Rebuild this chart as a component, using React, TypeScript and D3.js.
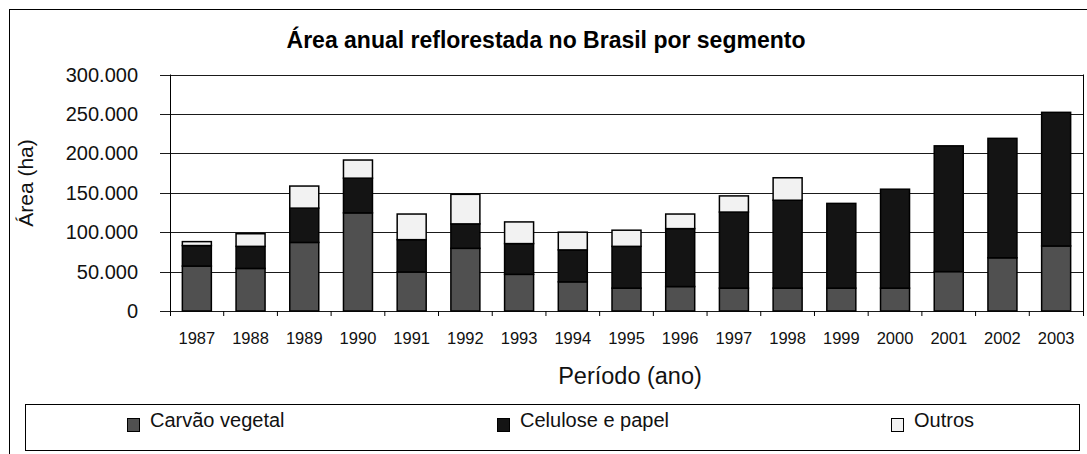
import * as d3 from 'd3'

const width = 1087
const height = 454
const plot = { left: 170, right: 1083, top: 74.5, bottom: 311 }

const years = [
  '1987', '1988', '1989', '1990', '1991', '1992', '1993', '1994', '1995',
  '1996', '1997', '1998', '1999', '2000', '2001', '2002', '2003',
]
const carvao = [
  57000, 54000, 87000, 124500, 49500, 79500, 46500, 37000, 29000,
  31000, 29000, 29000, 29000, 29000, 50000, 67500, 82500,
]
const celulose = [
  26000, 28000, 43500, 44000, 41000, 31000, 39000, 40500, 53000,
  73500, 96500, 111500, 107500, 125500, 159500, 151500, 169500,
]
const outros = [
  5000, 16000, 28000, 23000, 32500, 37500, 27500, 22500, 20500,
  18500, 20500, 28500, 0, 0, 0, 0, 0,
]
const yTicks = [0, 50000, 100000, 150000, 200000, 250000, 300000]

const seriesNames = ['Carvão vegetal', 'Celulose e papel', 'Outros']
const seriesColors = ['#505050', '#141414', '#f2f2f2']

const locale = d3.formatLocale({ decimal: ',', thousands: '.', grouping: [3], currency: ['', ''] })
const fmt = locale.format(',')

const font = '"Liberation Sans", Arial, sans-serif'

function App() {
  const rows = years.map((y, i) => ({ year: y, a: carvao[i], b: celulose[i], c: outros[i] }))
  const stack = d3.stack().keys(['a', 'b', 'c'])(rows)

  const x = d3.scaleBand().domain(years).range([plot.left, plot.right]).padding(0)
  const barW = x.bandwidth() * 0.54
  const y = d3.scaleLinear().domain([0, 300000]).range([plot.bottom, plot.top])

  const legendX = [127, 497, 891]

  return (
    <svg
      width={width}
      height={height}
      style={{ position: 'absolute', left: 0, top: 0, fontFamily: font }}
    >
      <rect x={0} y={0} width={width} height={height} fill="#fff" />
      <rect x={9.5} y={9.5} width={1090} height={460} fill="none" stroke="#000" />

      <text x={546} y={48} textAnchor="middle" fontSize={23} fontWeight="bold">
        Área anual reflorestada no Brasil por segmento
      </text>

      {/* grid + y ticks */}
      {yTicks.map((t) => (
        <g key={t}>
          <line x1={160} x2={plot.right} y1={Math.round(y(t)) + 0.5} y2={Math.round(y(t)) + 0.5} stroke="#1a1a1a" />
          <text x={138} y={y(t)} dy=".35em" textAnchor="end" fontSize={20} fill="#111">
            {fmt(t)}
          </text>
        </g>
      ))}
      <line x1={plot.right + 0.5} x2={plot.right + 0.5} y1={plot.top} y2={plot.bottom} stroke="#000" />
      <line x1={plot.left + 0.5} x2={plot.left + 0.5} y1={plot.top} y2={plot.bottom + 5} stroke="#000" />

      {/* x ticks */}
      {years.map((yr, i) => (
        <g key={yr}>
          {i > 0 && (
            <line x1={x(yr)} x2={x(yr)} y1={plot.bottom} y2={plot.bottom + 5} stroke="#000" />
          )}
          <text x={x(yr) + x.bandwidth() / 2} y={344} textAnchor="middle" fontSize={16.5} fill="#111">
            {yr}
          </text>
        </g>
      ))}
      <line x1={plot.right + 0.5} x2={plot.right + 0.5} y1={plot.bottom} y2={plot.bottom + 5} stroke="#000" />

      {/* bars */}
      {stack.map((s, si) =>
        s.map((d, i) => {
          if (d[1] - d[0] <= 0) return null
          const cx = x(years[i]) + x.bandwidth() / 2
          return (
            <rect
              key={si + '-' + i}
              x={cx - barW / 2}
              y={y(d[1])}
              width={barW}
              height={y(d[0]) - y(d[1])}
              fill={seriesColors[si]}
              stroke="#000"
              strokeWidth={1.5}
            />
          )
        })
      )}

      <text transform={`translate(33,183) rotate(-90)`} textAnchor="middle" fontSize={21} fill="#111">
        Área (ha)
      </text>
      <text x={630} y={384} textAnchor="middle" fontSize={23.5} fill="#111">
        Período (ano)
      </text>

      {/* legend */}
      <rect x={25.5} y={404.5} width={1054} height={46} fill="#fff" stroke="#000" />
      {seriesNames.map((n, i) => (
        <g key={n}>
          <rect x={legendX[i] + 0.5} y={418.5} width={12} height={13} fill={seriesColors[i]} stroke="#000" />
          <text x={legendX[i] + 23} y={427} fontSize={20} fill="#111">
            {n}
          </text>
        </g>
      ))}
    </svg>
  )
}

export default App
